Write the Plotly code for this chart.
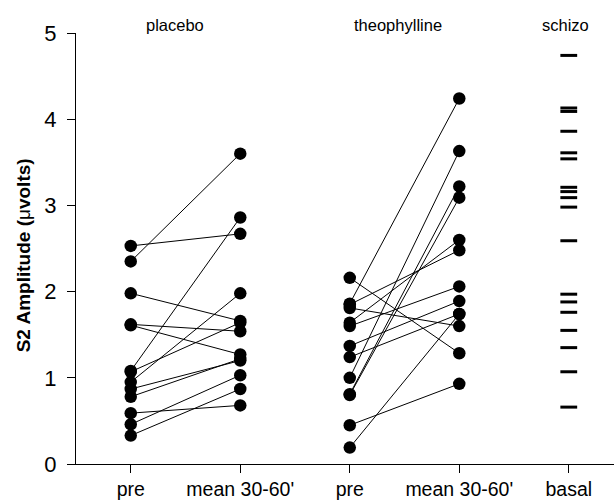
import plotly.graph_objects as go

# ---- data ----
categories = ["pre", "mean 30-60'", "pre", "mean 30-60'", "basal"]
cat_pos = [1, 2, 3, 4, 5]

placebo_pre = [2.53, 2.35, 1.98, 1.62, 1.61, 1.08, 1.07, 0.95, 0.87, 0.78, 0.59, 0.46, 0.33]
placebo_post = [2.67, 3.60, 1.66, 1.54, 1.27, 2.86, 1.64, 1.98, 1.20, 1.22, 0.68, 1.03, 0.87]

theo_pre = [2.16, 1.86, 1.85, 1.81, 1.64, 1.60, 1.37, 1.24, 1.00, 0.81, 0.80, 0.45, 0.19]
theo_post = [1.285, 4.24, 2.48, 1.60, 2.60, 2.06, 1.89, 1.74, 3.63, 3.22, 3.09, 0.93, 1.74]

schizo_basal = [4.74, 4.13, 4.09, 3.86, 3.61, 3.54, 3.21, 3.16, 3.09, 2.98, 2.59,
                1.97, 1.88, 1.76, 1.55, 1.35, 1.07, 0.66]

group_labels = ["placebo", "theophylline", "schizo"]
group_label_x = [1.40, 3.44, 4.97]

fig = go.Figure()


def paired(x0, x1, pre, post):
    xs, ys = [], []
    for a, b in zip(pre, post):
        xs += [x0, x1, None]
        ys += [a, b, None]
    return xs, ys


for (x0, x1, pre, post) in [(1, 2, placebo_pre, placebo_post), (3, 4, theo_pre, theo_post)]:
    xs, ys = paired(x0, x1, pre, post)
    fig.add_trace(go.Scatter(x=xs, y=ys, mode="lines",
                             line=dict(color="black", width=1),
                             hoverinfo="skip", showlegend=False, cliponaxis=False))
    fig.add_trace(go.Scatter(x=[x0] * len(pre) + [x1] * len(post), y=pre + post,
                             mode="markers",
                             marker=dict(color="black", size=12.5, symbol="circle"),
                             showlegend=False, cliponaxis=False))

fig.add_trace(go.Scatter(x=[5] * len(schizo_basal), y=schizo_basal, mode="markers",
                         marker=dict(symbol="line-ew", size=12,
                                     line=dict(color="black", width=3)),
                         showlegend=False, cliponaxis=False))

for lab, gx in zip(group_labels, group_label_x):
    fig.add_annotation(x=gx, y=5, xref="x", yref="y", text=lab, showarrow=False,
                       xanchor="center", yanchor="bottom", yshift=-3,
                       font=dict(family="Liberation Sans, Arial, sans-serif", size=16.5, color="black"))

fig.add_annotation(x=-0.097, y=0.5, xref="paper", yref="paper",
                   text="<b>S2 Amplitude (</b>μ<b>volts)</b>", textangle=-90, showarrow=False,
                   xanchor="center", yanchor="middle", yshift=-7,
                   font=dict(family="Liberation Sans, Arial, sans-serif", size=19, color="black"))

fig.update_layout(
    width=614, height=500,
    margin=dict(l=76, r=0, t=33, b=32),
    plot_bgcolor="white", paper_bgcolor="white",
    font=dict(family="Liberation Sans, Arial, sans-serif", color="black"),
    showlegend=False,
)
fig.update_xaxes(range=[0.5, 5.413], tickmode="array", tickvals=cat_pos, ticktext=categories,
                 showgrid=False, zeroline=False, showline=True, linecolor="black", linewidth=1,
                 ticks="outside", ticklen=8, tickcolor="black", tickwidth=1,
                 tickfont=dict(size=19.5, color="black"))
fig.update_yaxes(range=[0, 5], tickvals=[0, 1, 2, 3, 4, 5],
                 showgrid=False, zeroline=False, showline=True, linecolor="black", linewidth=1,
                 ticks="outside", ticklen=8, tickcolor="black", tickwidth=1,
                 ticklabelstandoff=6,
                 tickfont=dict(size=22, color="black"))

fig.write_html("out.html")
